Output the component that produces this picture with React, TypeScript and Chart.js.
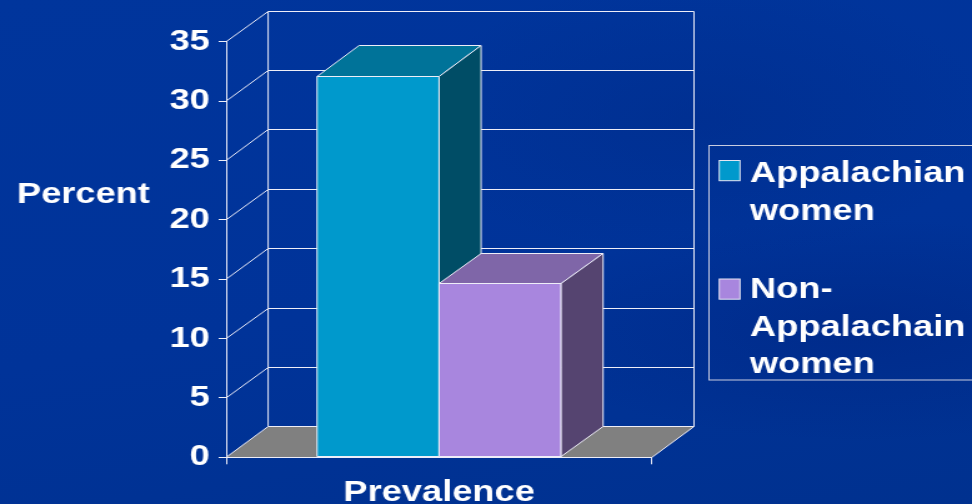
import React, { useEffect, useRef } from "react";
import { Chart, registerables } from "chart.js";

Chart.register(...registerables);

// ---------- data ----------
const categories = ["Prevalence"];
const seriesLabels = ["Appalachian women", "Non-Appalachain women"];
const legendLines = [["Appalachian", "women"], ["Non-", "Appalachain", "women"]];
const appalachianValues = [32.1];
const nonAppalachianValues = [14.6];
const yTicks = [0, 5, 10, 15, 20, 25, 30, 35];
const yAxisTitle = "Percent";

// ---------- style ----------
const CW = 778; // internal canvas width (stretched to 972 on screen)
const CH = 504;
const DX = 33.6; // 3D depth offset (internal px)
const DY = 30.5;
const FONT = '"Liberation Sans", Arial, Helvetica, sans-serif';
const LINE = "#EEEEF8";
const FLOOR = "#808080";
const faceColors = [
  { front: "#0099CC", top: "#007399", side: "#004D66" },
  { front: "#A886DE", top: "#7F66A8", side: "#554470" },
];

const snap = (v: number) => Math.round(v - 0.5) + 0.5;

const threeD = {
  id: "threeD",
  beforeDatasetsDraw(chart: any) {
    const { ctx, chartArea } = chart;
    const { left, right, top, bottom } = chartArea;
    const ys = chart.scales.y;
    ctx.save();
    ctx.fillStyle = FLOOR;
    ctx.beginPath();
    ctx.moveTo(left, bottom);
    ctx.lineTo(right, bottom);
    ctx.lineTo(right + DX, bottom - DY);
    ctx.lineTo(left + DX, bottom - DY);
    ctx.closePath();
    ctx.fill();
    ctx.strokeStyle = LINE;
    ctx.lineWidth = 1;
    ctx.beginPath();
    ys.ticks.forEach((t: any) => {
      const yy = ys.getPixelForValue(t.value);
      const yb = snap(yy - DY);
      ctx.moveTo(left, yy);
      ctx.lineTo(left + DX, yb);
      ctx.lineTo(right + DX, yb);
    });
    ctx.moveTo(left + DX, snap(top - DY));
    ctx.lineTo(left + DX, snap(bottom - DY));
    ctx.moveTo(right + DX, snap(top - DY));
    ctx.lineTo(right + DX, snap(bottom - DY));
    ctx.moveTo(right, bottom);
    ctx.lineTo(right + DX, snap(bottom - DY));
    ctx.moveTo(left, snap(bottom));
    ctx.lineTo(right, snap(bottom));
    ctx.stroke();
    ctx.restore();
  },
  afterDatasetsDraw(chart: any) {
    const { ctx } = chart;
    ctx.save();
    ctx.strokeStyle = LINE;
    ctx.lineWidth = 1;
    chart.data.datasets.forEach((_: any, i: number) => {
      const meta = chart.getDatasetMeta(i);
      const c = faceColors[i];
      meta.data.forEach((bar: any) => {
        const { x, y, base, width } = bar.getProps(["x", "y", "base", "width"], true);
        const l = x - width / 2;
        const r = x + width / 2;
        const yt = snap(y);
        const yb = snap(base);
        // front
        ctx.fillStyle = c.front;
        ctx.beginPath();
        ctx.rect(l, yt, r - l, yb - yt);
        ctx.fill();
        ctx.stroke();
        // top
        ctx.fillStyle = c.top;
        ctx.beginPath();
        ctx.moveTo(l, yt);
        ctx.lineTo(l + DX, snap(y - DY));
        ctx.lineTo(r + DX, snap(y - DY));
        ctx.lineTo(r, yt);
        ctx.closePath();
        ctx.fill();
        ctx.stroke();
        // side
        ctx.fillStyle = c.side;
        ctx.beginPath();
        ctx.moveTo(r, yt);
        ctx.lineTo(r + DX, snap(y - DY));
        ctx.lineTo(r + DX, snap(base - DY));
        ctx.lineTo(r, yb);
        ctx.closePath();
        ctx.fill();
        ctx.stroke();
      });
    });
    ctx.restore();
  },
  afterDraw(chart: any) {
    const { ctx } = chart;
    ctx.save();
    ctx.fillStyle = "#FFFFFF";
    ctx.font = `bold 29px ${FONT}`;
    ctx.textAlign = "left";
    ctx.textBaseline = "alphabetic";
    ctx.fillText(yAxisTitle, 13.6, 203);

    // legend
    const bx = 567.5;
    ctx.strokeStyle = "#C8CCE0";
    ctx.lineWidth = 1;
    ctx.strokeRect(bx, 145.5, CW + 20 - bx, 380 - 145.5);
    const squareY = [160.5, 279];
    const lineY = [[182, 219.5], [298, 336, 373]];
    legendLines.forEach((lines, i) => {
      ctx.fillStyle = faceColors[i].front;
      ctx.fillRect(575.7, squareY[i], 16.6, 20.2);
      ctx.strokeStyle = "#E6E6F2";
      ctx.strokeRect(575.7, squareY[i], 16.6, 20.2);
      ctx.fillStyle = "#FFFFFF";
      lines.forEach((t, j) => ctx.fillText(t, 600.3, lineY[i][j]));
    });
    ctx.restore();
  },
};

export default function App() {
  const ref = useRef<HTMLCanvasElement | null>(null);
  useEffect(() => {
    if (!ref.current) return;
    const chart = new Chart(ref.current, {
      type: "bar",
      data: {
        labels: categories,
        datasets: [
          {
            label: seriesLabels[0],
            data: appalachianValues,
            backgroundColor: faceColors[0].front,
            borderColor: LINE,
            borderWidth: 1,
          },
          {
            label: seriesLabels[1],
            data: nonAppalachianValues,
            backgroundColor: faceColors[1].front,
            borderColor: LINE,
            borderWidth: 1,
          },
        ],
      },
      options: {
        responsive: false,
        animation: false,
        devicePixelRatio: 1,
        layout: { padding: { left: 0, right: CW - 521.9, top: 41.7, bottom: 0 } },
        datasets: { bar: { categoryPercentage: 0.573, barPercentage: 1 } },
        plugins: { legend: { display: false }, tooltip: { enabled: false } },
        scales: {
          x: {
            afterFit: (s: any) => {
              s.height = CH - 457.3;
            },
            grid: { drawOnChartArea: false, drawTicks: true, tickLength: 7, color: LINE },
            border: { display: true, color: LINE, width: 1 },
            ticks: {
              color: "#FFFFFF",
              padding: 11,
              font: { family: FONT, size: 29, weight: "bold" },
            },
          },
          y: {
            min: 0,
            max: 35,
            afterBuildTicks: (s: any) => {
              s.ticks = yTicks.map((v) => ({ value: v }));
            },
            afterFit: (s: any) => {
              s.width = 181;
            },
            grid: { drawOnChartArea: false, drawTicks: true, tickLength: 6, color: LINE },
            border: { display: true, color: LINE, width: 1 },
            ticks: {
              color: "#FFFFFF",
              padding: 7,
              font: { family: FONT, size: 29, weight: "bold" },
            },
          },
        },
      },
      plugins: [threeD],
    } as any);
    return () => chart.destroy();
  }, []);

  return (
    <div
      style={{
        position: "fixed",
        left: 0,
        top: 0,
        width: 972,
        height: 504,
        overflow: "hidden",
        background:
          "radial-gradient(ellipse 420px 200px at 700px 120px, rgba(0,40,130,0.35), rgba(0,40,130,0) 70%), radial-gradient(ellipse 500px 160px at 860px 330px, rgba(0,30,120,0.35), rgba(0,30,120,0) 70%), linear-gradient(170deg, #00359C 0%, #003399 55%, #00318F 100%)",
      }}
    >
      <canvas
        ref={ref}
        width={CW}
        height={CH}
        style={{ width: "972px", height: "504px", display: "block" }}
      />
    </div>
  );
}
